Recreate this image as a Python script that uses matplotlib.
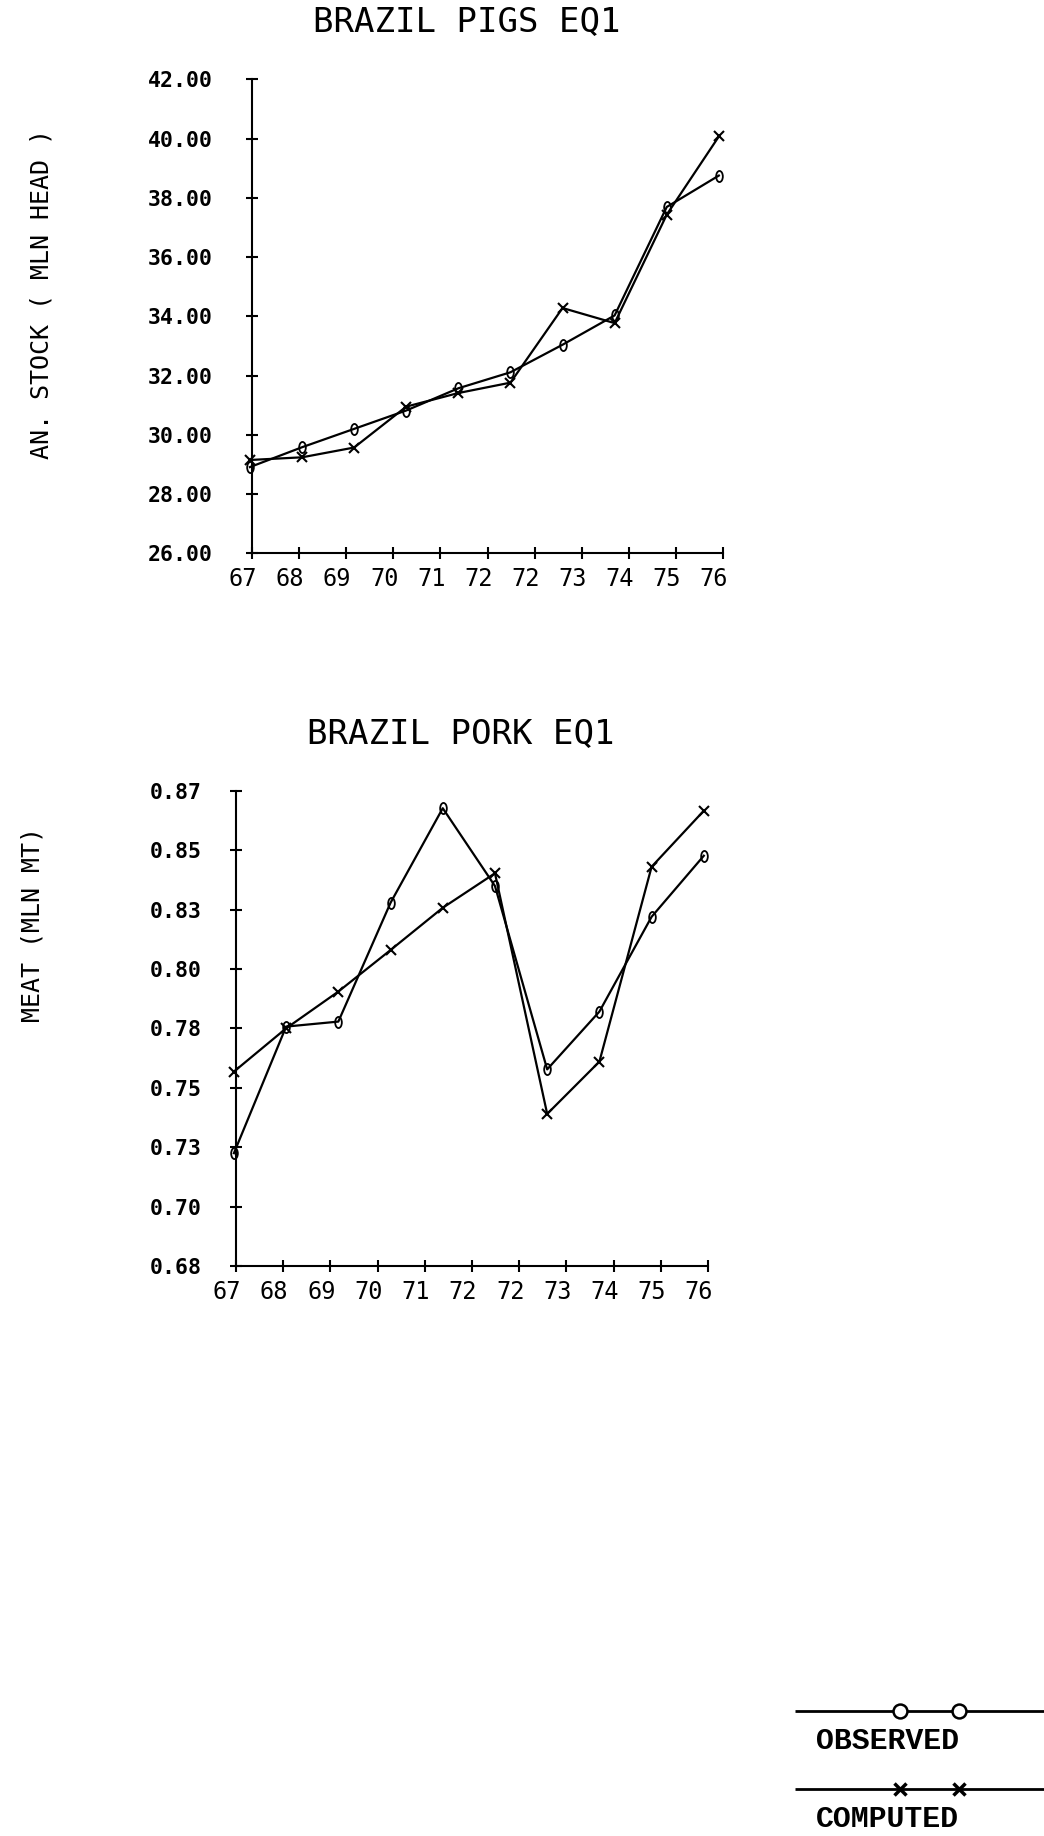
import numpy as np
import matplotlib
matplotlib.use("Agg")
import matplotlib.pyplot as plt
import matplotlib.transforms as mtransforms
from matplotlib.path import Path

# ---------------- data ----------------
years = [1967, 1968, 1969, 1970, 1971, 1972, 1973, 1974, 1975, 1976]
xtick_labels = ['67', '68', '69', '70', '71', '72', '72', '73', '74', '75', '76']

pigs_observed = [28.91, 29.58, 30.20, 30.82, 31.57, 32.11, 33.04, 34.03, 37.69, 38.75]
pigs_computed = [29.15, 29.24, 29.57, 30.95, 31.41, 31.76, 34.28, 33.77, 37.43, 40.07]
pigs_yticks = [26.0, 28.0, 30.0, 32.0, 34.0, 36.0, 38.0, 40.0, 42.0]

pork_observed = [0.7251, 0.7757, 0.7777, 0.8252, 0.8630, 0.8319, 0.7586, 0.7817, 0.8196, 0.8440]
pork_computed = [0.7577, 0.7750, 0.7897, 0.8063, 0.8232, 0.8370, 0.7408, 0.7617, 0.8396, 0.8620]
pork_ytick_labels = ['0.68', '0.70', '0.73', '0.75', '0.78', '0.80', '0.83', '0.85', '0.87']

titles = ['BRAZIL PIGS EQ1', 'BRAZIL PORK EQ1']
ylabels = ['AN. STOCK ( MLN HEAD )', 'MEAT (MLN MT)']
legend_labels = ['OBSERVED', 'COMPUTED']

# ---------------- figure ----------------
W, H = 1044, 1836
fig = plt.figure(figsize=(W / 100, H / 100), dpi=100)
fig.patch.set_facecolor('white')

MONO = 'DejaVu Sans Mono'
ell = Path.unit_circle().transformed(mtransforms.Affine2D().scale(0.6, 1.0))

def px(x0, y0, x1, y1):
    return [x0 / W, 1 - y1 / H, (x1 - x0) / W, (y1 - y0) / H]

xlim = (years[0] + 0.04, years[0] + 9.08)

def style_axes(ax, ypad):
    for s in ['top', 'right']:
        ax.spines[s].set_visible(False)
    for s in ['left', 'bottom']:
        ax.spines[s].set_linewidth(1.5)
    ax.tick_params(direction='inout', length=8, width=1.5)
    ax.tick_params(axis='y', pad=ypad)
    ax.tick_params(axis='x', pad=6)
    ax.set_xlim(*xlim)
    ax.set_xticks(np.linspace(xlim[0], xlim[1], len(xtick_labels)))
    ax.set_xticklabels(xtick_labels, fontfamily=MONO, fontsize=17)
    off = mtransforms.ScaledTranslation(-9 / 100, 0, fig.dpi_scale_trans)
    for lab in ax.get_xticklabels():
        lab.set_transform(lab.get_transform() + off)

def draw_series(ax, obs, comp):
    ax.plot(years, obs, color='black', lw=1.6, marker=ell, markersize=8,
            markerfacecolor='none', markeredgecolor='black', markeredgewidth=1.3,
            clip_on=False, zorder=3)
    ax.plot(years, comp, color='black', lw=1.6, marker='x', markersize=7,
            markeredgewidth=1.5, clip_on=False, zorder=3)

# ---- top chart ----
ax1 = fig.add_axes(px(252, 79.3, 723, 553.3))
draw_series(ax1, pigs_observed, pigs_computed)
style_axes(ax1, ypad=24)
ax1.set_ylim(26, 42)
ax1.set_yticks(pigs_yticks)
ax1.set_yticklabels([f'{v:.2f}' for v in pigs_yticks], fontfamily=MONO,
                    fontsize=15.5, fontweight='bold')

# ---- bottom chart ----
ax2 = fig.add_axes(px(236, 790.7, 708, 1266))
draw_series(ax2, pork_observed, pork_computed)
style_axes(ax2, ypad=20.5)
ax2.set_ylim(0.68, 0.87)
ax2.set_yticks(np.linspace(0.68, 0.87, len(pork_ytick_labels)))
ax2.set_yticklabels(pork_ytick_labels, fontfamily=MONO, fontsize=15.5,
                    fontweight='bold')

# ---- titles and y labels ----
fig.text(467 / W, 1 - 23 / H, titles[0], ha='center', va='center',
         fontfamily=MONO, fontsize=24.5)
fig.text(461 / W, 1 - 735 / H, titles[1], ha='center', va='center',
         fontfamily=MONO, fontsize=24.5)
fig.text(42 / W, 1 - 294 / H, ylabels[0], ha='center', va='center',
         rotation=90, fontfamily=MONO, fontsize=18)
fig.text(33 / W, 1 - 925 / H, ylabels[1], ha='center', va='center',
         rotation=90, fontfamily=MONO, fontsize=18)

# ---- legend (bottom right) ----
lax = fig.add_axes([0, 0, 1, 1])
lax.set_xlim(0, W)
lax.set_ylim(H, 0)
lax.axis('off')
lax.patch.set_alpha(0)
leg_y = [1711, 1789]
leg_text_y = [1741, 1819]
leg_markers = [dict(marker='o', markersize=10, markerfacecolor='white',
                    markeredgewidth=1.8),
               dict(marker='x', markersize=8, markeredgewidth=2.5)]
for ly, ty, lab, mk in zip(leg_y, leg_text_y, legend_labels, leg_markers):
    lax.plot([795, 1044], [ly, ly], color='black', lw=2, solid_capstyle='butt')
    lax.plot([900, 959], [ly, ly], color='black', lw=0, markeredgecolor='black',
             **mk)
    lax.text(816, ty, lab, ha='left', va='center', fontfamily='Liberation Mono',
             fontweight='bold', fontsize=21.5)

fig.savefig('out.png', dpi=100, facecolor='white')
